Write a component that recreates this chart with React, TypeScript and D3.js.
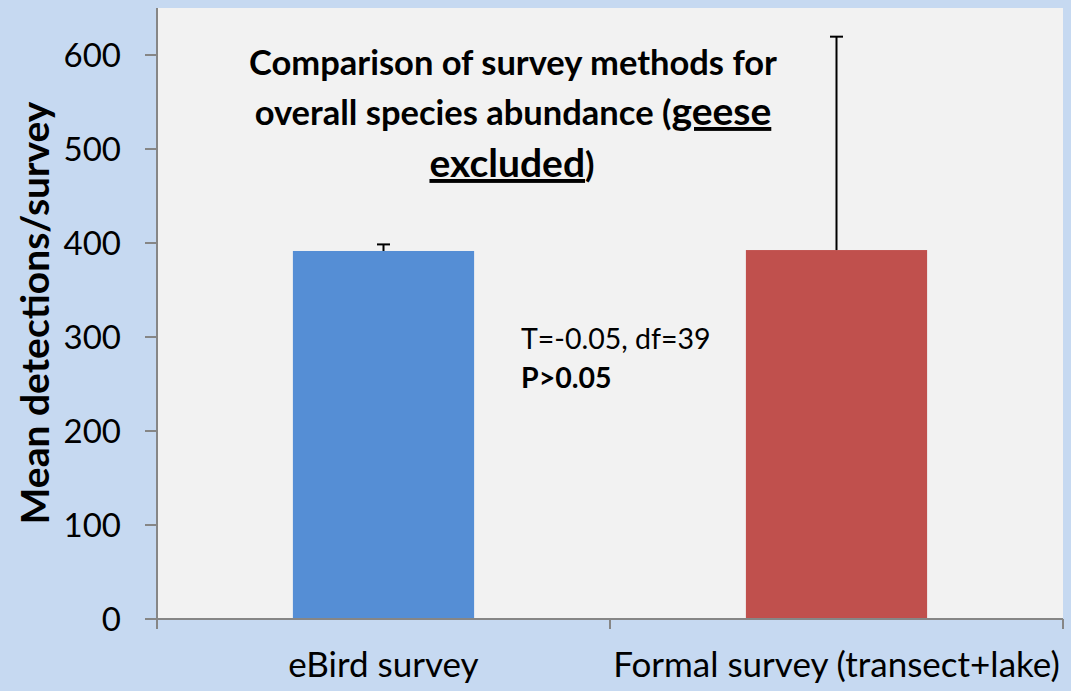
import * as d3 from "d3";

const categories = ["eBird survey", "Formal survey (transect+lake)"];
const means = [391.5, 392.5];
const errUpper = [7, 227];
const barColors = ["#558ed5", "#c0504d"];
const yTicks = [0, 100, 200, 300, 400, 500, 600];

const W = 1071;
const H = 691;
const margin = { top: 8, right: 8, bottom: 72, left: 157 };
const FONT = "Lato, 'Open Sans', sans-serif";

export default function App() {
  const innerW = W - margin.left - margin.right;
  const innerH = H - margin.top - margin.bottom;

  const x = d3.scaleBand().domain(categories).range([0, innerW]).paddingInner(0.6).paddingOuter(0.3);
  const xb = d3.scaleBand().domain(categories).range([0, innerW]);
  const y = d3.scaleLinear().domain([0, 650]).range([innerH, 0]);

  return (
    <svg width={W} height={H} style={{ position: "absolute", left: 0, top: 0 }} fontFamily={FONT}>
      <rect width={W} height={H} fill="#c6d9f1" />
      <g transform={`translate(${margin.left},${margin.top})`}>
        <rect width={innerW} height={innerH} fill="#f2f2f2" />

        {categories.map((c, i) => (
          <rect key={c} x={x(c)} y={y(means[i])} width={x.bandwidth()} height={innerH - y(means[i])} fill={barColors[i]} />
        ))}

        {categories.map((c, i) => {
          const cx = (x(c) || 0) + x.bandwidth() / 2;
          const top = y(means[i] + errUpper[i]);
          return (
            <g key={c} stroke="#000" strokeWidth={2}>
              <line x1={cx} x2={cx} y1={y(means[i])} y2={top} />
              <line x1={cx - 6.5} x2={cx + 6.5} y1={top} y2={top} />
            </g>
          );
        })}

        {/* y axis */}
        <line x1={0} x2={0} y1={0} y2={innerH} stroke="#868686" strokeWidth={2} />
        {yTicks.map((t) => (
          <g key={t} transform={`translate(0,${y(t)})`}>
            <line x1={-12} x2={0} stroke="#868686" strokeWidth={2} />
            <text x={-36} dy="0.36em" textAnchor="end" fontSize={33} fill="#000">
              {t}
            </text>
          </g>
        ))}

        {/* x axis */}
        <line x1={0} x2={innerW} y1={innerH} y2={innerH} stroke="#868686" strokeWidth={2} />
        {[0, ...categories.map((c) => (xb(c) || 0) + xb.bandwidth())].map((px, i) => (
          <line key={i} x1={px} x2={px} y1={innerH} y2={innerH + 10} stroke="#868686" strokeWidth={2} />
        ))}
        {categories.map((c) => (
          <text key={c} x={(xb(c) || 0) + xb.bandwidth() / 2} y={innerH + 58} textAnchor="middle" fontSize={35} fill="#000">
            {c}
          </text>
        ))}
      </g>

      <text transform="translate(49,313) rotate(-90)" textAnchor="middle" fontSize={39} fontWeight="bold" fill="#000">
        Mean detections/survey
      </text>

      <g fontWeight="bold" fill="#000" textAnchor="middle">
        <text x={513} y={75} fontSize={34.5}>Comparison of survey methods for</text>
        <text x={513} y={125} fontSize={34.5}>
          overall species abundance (<tspan fontSize={39} textDecoration="underline">geese</tspan>
        </text>
        <text x={512} y={177} fontSize={34.5}>
          <tspan fontSize={39} textDecoration="underline">excluded</tspan>)
        </text>
      </g>

      <text x={521} y={349} fontSize={28.5} fill="#000">T=-0.05, df=39</text>
      <text x={521} y={388} fontSize={28.5} fontWeight="bold" fill="#000">P&gt;0.05</text>
    </svg>
  );
}
